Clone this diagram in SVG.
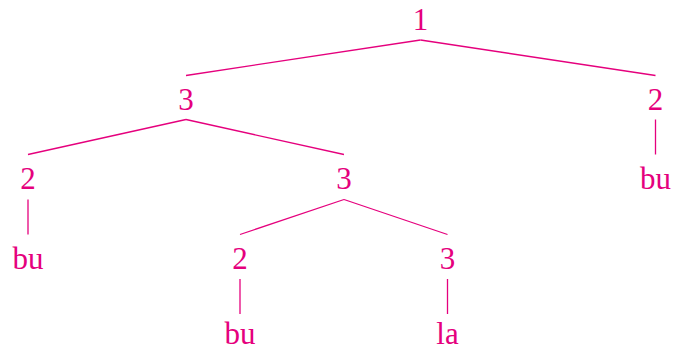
<svg xmlns="http://www.w3.org/2000/svg" width="683" height="351" viewBox="0 0 683 351">
<style>
text{font-family:"Liberation Serif","Times New Roman",serif;font-size:31px;fill:#E5007D;text-anchor:middle}
.e line{stroke:#E5007D;stroke-width:1.3;fill:none}
</style>
<rect width="683" height="351" fill="#fff"/>
<g class="e" id="connectors">
<line x1="420.5" y1="40" x2="186" y2="75.5"/>
<line x1="420.5" y1="40" x2="655.5" y2="75.5"/>
<line x1="186" y1="119.5" x2="28" y2="154.5"/>
<line x1="186" y1="119.5" x2="344" y2="154.5"/>
<line x1="655.5" y1="119.5" x2="655.5" y2="154.5"/>
<line x1="28" y1="199.5" x2="28" y2="234.5"/>
<line x1="344" y1="199.5" x2="240" y2="234.5"/>
<line x1="344" y1="199.5" x2="447.5" y2="234.5"/>
<line x1="240" y1="279" x2="240" y2="314"/>
<line x1="447.5" y1="279" x2="447.5" y2="314"/>
</g>
<g id="n1"><text x="420.5" y="29.5">1</text></g>
<g id="n3a"><text x="186" y="109.5">3</text></g>
<g id="n2a"><text x="655.5" y="109.5">2</text></g>
<g id="n2b"><text x="28" y="189">2</text></g>
<g id="n3b"><text x="344" y="189">3</text></g>
<g id="nbu1"><text x="655.5" y="189">bu</text></g>
<g id="nbu2"><text x="28" y="268.5">bu</text></g>
<g id="n2c"><text x="240" y="268.5">2</text></g>
<g id="n3c"><text x="447.5" y="268.5">3</text></g>
<g id="nbu3"><text x="240" y="344">bu</text></g>
<g id="nla"><text x="447.5" y="344">la</text></g>
</svg>
